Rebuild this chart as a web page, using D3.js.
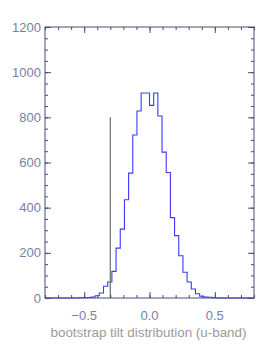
<!DOCTYPE html>
<html>
<head>
<meta charset="utf-8">
<script src="https://cdn.jsdelivr.net/npm/d3@7"></script>
<style>
  html, body { margin: 0; padding: 0; background: #fff; }
  text { font-family: "Liberation Sans", Arial, sans-serif; }
</style>
</head>
<body>
<div id="chart"></div>
<script>
// 50 bins of width 0.032 over [-0.8, 0.8]
const binStart = -0.8;
const binWidth = 0.032;
const counts = [
  0, 0, 0, 0, 0, 0, 0, 0, 1, 1,
  2, 4, 10, 22, 52, 71, 118, 221, 305, 435,
  553, 722, 828, 908, 908, 853, 908, 806, 646, 556,
  356, 276, 187, 114, 71, 40, 19, 8, 4, 3,
  1, 0, 0, 0, 0, 0, 0, 0, 0, 0
];
const markerX = -0.3;
const markerTop = 800;

const xMajor = [-0.5, 0, 0.5];
const xMinor = d3.range(-0.8, 0.801, 0.1).map(v => +v.toFixed(2));
const yMajor = [0, 200, 400, 600, 800, 1000, 1200];
const yMinor = d3.range(0, 1201, 50);

const width = 274, height = 354;
const axisColor = '#4a4a78';
const labelColor = '#7a7ea6';

const svg = d3.select('#chart').append('svg')
  .attr('width', width)
  .attr('height', height);

const x = d3.scaleLinear().domain([-0.8, 0.8]).range([45, 254]);
const y = d3.scaleLinear().domain([0, 1200]).range([298, 27]);

// histogram as a step line
const pts = [[binStart, 0]];
counts.forEach((c, i) => {
  const a = binStart + i * binWidth;
  pts.push([a, c], [a + binWidth, c]);
});
pts.push([binStart + counts.length * binWidth, 0]);

const line = d3.line().x(d => x(d[0])).y(d => y(d[1]));

svg.append('path')
  .attr('d', line(pts))
  .attr('fill', 'none')
  .attr('stroke', '#3a3aff')
  .attr('stroke-width', 1.1);

svg.append('line')
  .attr('x1', x(markerX)).attr('x2', x(markerX))
  .attr('y1', y(0)).attr('y2', y(markerTop))
  .attr('stroke', '#777')
  .attr('stroke-width', 1.3);

// frame
svg.append('rect')
  .attr('x', x(-0.8)).attr('y', y(1200))
  .attr('width', x(0.8) - x(-0.8))
  .attr('height', y(0) - y(1200))
  .attr('fill', 'none')
  .attr('stroke', axisColor)
  .attr('stroke-width', 1);

function ticks(g, axis) {
  g.call(axis);
  g.select('.domain').remove();
  g.selectAll('line').attr('stroke', axisColor);
}

const noLabel = () => '';

// x minor + major ticks, bottom and top
[[d3.axisBottom, y(0)], [d3.axisTop, y(1200)]].forEach(([ax, ty]) => {
  svg.append('g').attr('transform', `translate(0,${ty})`)
    .call(ticks, ax(x).tickValues(xMinor).tickSize(-3).tickFormat(noLabel));
  svg.append('g').attr('transform', `translate(0,${ty})`)
    .call(ticks, ax(x).tickValues(xMajor).tickSize(-6).tickFormat(noLabel));
});

// y minor + major ticks, left and right
[[d3.axisLeft, x(-0.8)], [d3.axisRight, x(0.8)]].forEach(([ax, tx]) => {
  svg.append('g').attr('transform', `translate(${tx},0)`)
    .call(ticks, ax(y).tickValues(yMinor).tickSize(-3).tickFormat(noLabel));
  svg.append('g').attr('transform', `translate(${tx},0)`)
    .call(ticks, ax(y).tickValues(yMajor).tickSize(-6).tickFormat(noLabel));
});

// labels
const fmtX = d3.format('.1f');
svg.append('g').selectAll('text')
  .data(xMajor).enter().append('text')
  .attr('x', d => x(d))
  .attr('y', 320)
  .attr('text-anchor', 'middle')
  .attr('font-size', 13)
  .attr('fill', labelColor)
  .text(d => fmtX(d));

svg.append('g').selectAll('text')
  .data(yMajor).enter().append('text')
  .attr('x', 41)
  .attr('y', d => y(d) + 4.5)
  .attr('text-anchor', 'end')
  .attr('font-size', 13)
  .attr('fill', labelColor)
  .text(d => d);

svg.append('text')
  .attr('x', 148.5)
  .attr('y', 337)
  .attr('text-anchor', 'middle')
  .attr('font-size', 12)
  .attr('textLength', 196)
  .attr('lengthAdjust', 'spacingAndGlyphs')
  .attr('fill', '#9a9a9a')
  .text('bootstrap tilt distribution (u-band)');
</script>
</body>
</html>
